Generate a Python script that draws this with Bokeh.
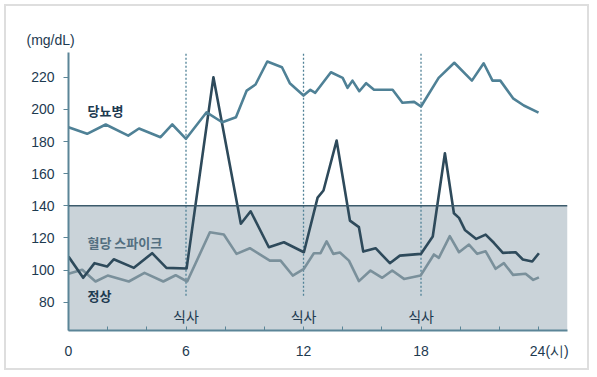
from bokeh.plotting import figure
from bokeh.models import FixedTicker, Range1d, BoxAnnotation, Span
from bokeh.core.properties import value
from bokeh.embed import file_html
from bokeh.resources import INLINE

# ---- data ----
diabetes_h = [0, 0.95, 1.9, 3.05, 3.6, 4.7, 5.3, 6.0, 7.05, 7.85, 8.55, 9.1, 9.55, 10.15,
              10.9, 11.3, 12.0, 12.35, 12.6, 13.4, 14.0, 14.25, 14.5, 14.85, 15.2, 15.6,
              16.55, 17.05, 17.65, 18.0, 18.9, 19.7, 20.6, 21.2, 21.65, 22.05, 22.7, 23.25, 24.0]
diabetes_v = [188.9, 184.8, 190.6, 183.7, 188.1, 182.7, 190.6, 181.7, 198.2, 192.0, 195.1, 211.7,
              215.5, 229.8, 226.2, 216.3, 208.6, 212.2, 210.3, 223.1, 219.6, 213.4, 217.9, 211.3,
              216.3, 212.2, 212.2, 204.1, 204.7, 201.8, 219.6, 229.0, 217.9, 228.7, 217.9, 217.9,
              206.9, 202.4, 198.0]

spike_h = [0, 0.75, 1.33, 1.97, 2.31, 3.34, 4.27, 5.0, 6.03, 7.4, 8.8, 9.3, 10.23, 11.0, 12.02,
           12.72, 13.02, 13.69, 14.37, 14.83, 15.05, 15.68, 16.41, 16.92, 18.0, 18.6, 19.22,
           19.68, 19.94, 20.24, 20.82, 21.3, 21.72, 22.18, 22.83, 23.2, 23.68, 24.02]
spike_v = [108.4, 95.2, 104.3, 102.2, 106.7, 101.4, 110.5, 101.4, 101.0, 220.0, 128.8, 136.6,
           114.2, 117.3, 111.1, 145.1, 149.5, 180.6, 130.8, 126.7, 111.5, 113.6, 104.3, 109.0,
           110.1, 120.9, 172.7, 135.4, 132.5, 125.0, 119.4, 122.1, 117.0, 110.7, 111.1, 106.6,
           105.3, 110.5]

normal_h = [0, 0.7, 1.38, 2.0, 3.08, 3.88, 4.84, 5.47, 6.06, 7.22, 7.93, 8.58, 9.26, 10.28,
            10.83, 11.45, 12.02, 12.53, 12.87, 13.18, 13.52, 13.86, 14.32, 14.83, 15.42, 16.02,
            16.53, 17.13, 17.98, 18.66, 18.91, 19.47, 19.94, 20.45, 20.87, 21.3, 21.81, 22.23,
            22.7, 23.34, 23.73, 24.02]
normal_v = [97.7, 100.2, 92.9, 96.6, 92.9, 98.3, 92.9, 96.8, 92.9, 123.5, 122.1, 110.1, 113.6,
            105.9, 105.9, 96.6, 100.8, 110.5, 110.5, 117.9, 110.1, 110.9, 105.9, 93.1, 99.7,
            95.2, 99.7, 94.5, 96.6, 109.7, 107.6, 121.1, 111.1, 115.9, 110.1, 111.7, 100.8,
            104.3, 97.0, 97.7, 93.9, 95.5]

meal_hours = [6, 12, 18]
meal_label = "식사"
threshold = 140
y_ticks = [80, 100, 120, 140, 160, 180, 200, 220]
hour_ticks = [0, 2, 4, 6, 8, 10, 12, 14, 16, 18, 20, 22, 24]
x_label_pos = [0, 6, 12, 18, 24.55]
x_label_text = ["0", "6", "12", "18", "24(시)"]
unit_label = "(mg/dL)"
series_labels = ["당뇨병", "혈당 스파이크", "정상"]

# ---- styling ----
TXT = "#1d3a50"
AX = "#5b8597"
C_DIAB = "#4f8196"
C_SPIKE = "#2e4a5b"
C_NORM = "#7a909b"
FILL = "#cad3d9"
NUMFONT = "Liberation Sans"
KRFONT = "Noto Sans CJK KR"

p = figure(width=585, height=366, output_backend="svg", toolbar_location=None,
           x_range=Range1d(0, 25.48), y_range=Range1d(62.4, 235.4),
           min_border_left=62, min_border_right=24, min_border_top=46, min_border_bottom=42)
p.styles = {"border": "2px solid #dedede", "margin": "4px"}
p.outline_line_color = None
p.xgrid.grid_line_color = None
p.ygrid.grid_line_color = None
p.background_fill_color = "white"

# unit label as a left-aligned title pulled left of the frame
p.title.text = unit_label
p.title.align = "left"
p.title.offset = -42
p.title.text_font = NUMFONT
p.title.text_font_size = "14px"
p.title.text_font_style = "normal"
p.title.text_color = TXT
p.title.standoff = 9

# shaded normal range
p.add_layout(BoxAnnotation(top=threshold, fill_color=FILL, fill_alpha=1.0, line_color=None,
                           level="underlay"))
p.add_layout(Span(location=threshold, dimension="width", line_color="#3c5b6c", line_width=1.6))

# meal lines
p.segment(x0=meal_hours, y0=[84] * 3, x1=meal_hours, y1=[235.4] * 3,
          line_color=C_DIAB, line_width=1.3, line_dash="2 2")

p.line(normal_h, normal_v, line_color=C_NORM, line_width=2.6, line_join="round")
p.line(spike_h, spike_v, line_color=C_SPIKE, line_width=2.6, line_join="round")
p.line(diabetes_h, diabetes_v, line_color=C_DIAB, line_width=2.6, line_join="round")

# axes
xa = p.xaxis[0]
xa.ticker = FixedTicker(ticks=x_label_pos, minor_ticks=hour_ticks)
xa.major_label_overrides = dict(zip(x_label_pos, x_label_text))
xa.axis_line_color = AX
xa.axis_line_width = 2
xa.major_tick_line_color = None
xa.minor_tick_line_color = AX
xa.major_tick_in = 0
xa.major_tick_out = 0
xa.minor_tick_in = 4
xa.minor_tick_out = 0
xa.major_label_standoff = 12
xa.major_label_text_font = NUMFONT
xa.major_label_text_font_size = "14px"
xa.major_label_text_color = TXT

ya = p.yaxis[0]
ya.ticker = FixedTicker(ticks=y_ticks)
ya.axis_line_color = AX
ya.axis_line_width = 2
ya.major_tick_line_color = AX
ya.major_tick_in = 0
ya.major_tick_out = 5
ya.minor_tick_line_color = None
ya.major_label_standoff = 9
ya.major_label_text_font = NUMFONT
ya.major_label_text_font_size = "14px"
ya.major_label_text_color = TXT

# texts
p.text(x=[0.97], y=[199.3], text=[series_labels[0]], text_font=value(KRFONT),
       text_font_size="13px", text_font_style="bold", text_color=TXT,
       text_baseline="middle", text_align="left")
p.text(x=[0.97], y=[117.3], text=[series_labels[1]], text_font=value(KRFONT),
       text_font_size="13px", text_font_style="bold", text_color="#536f80",
       text_baseline="middle", text_align="left")
p.text(x=[0.97], y=[84.2], text=[series_labels[2]], text_font=value(KRFONT),
       text_font_size="13px", text_font_style="bold", text_color=TXT,
       text_baseline="middle", text_align="left")
p.text(x=meal_hours, y=[71.7] * 3, text=[meal_label] * 3, text_font=value(KRFONT),
       text_font_size="14px", text_color=TXT, text_baseline="middle", text_align="center")

open("out.html", "w").write(file_html(p, INLINE))
